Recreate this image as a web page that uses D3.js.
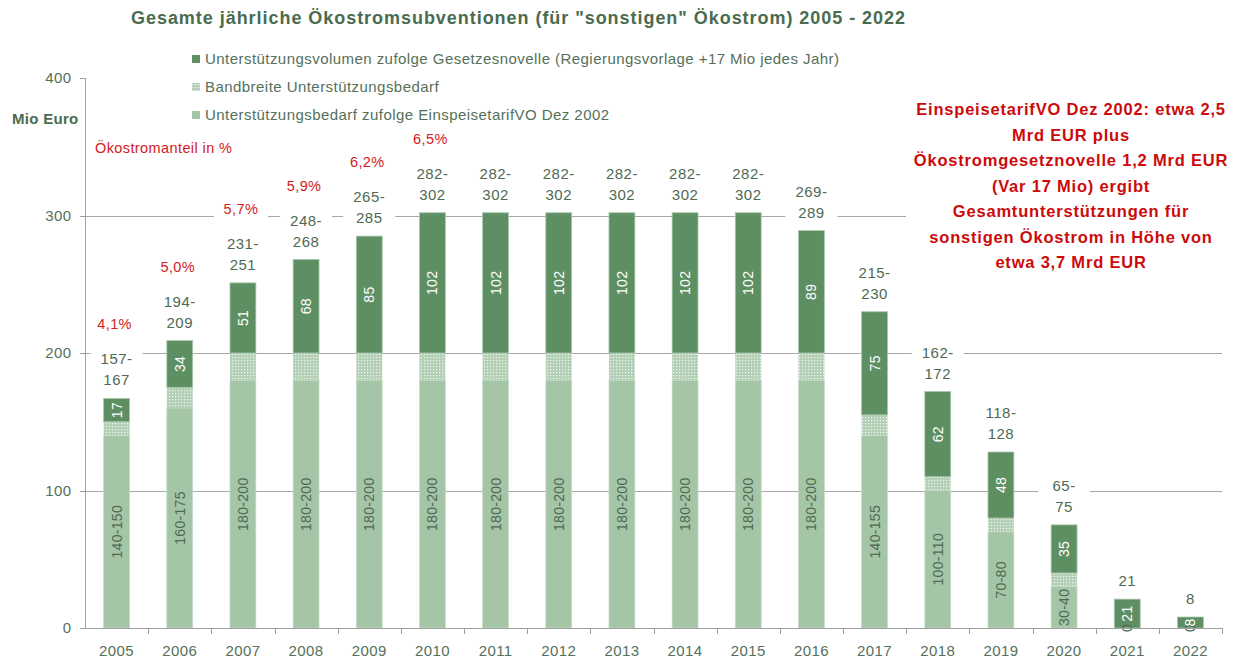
<!DOCTYPE html>
<html>
<head>
<meta charset='utf-8'>
<title>Ökostromsubventionen 2005 - 2022</title>
<script src='https://d3js.org/d3.v7.min.js'></script>
<style>
    body { margin: 0; background: #fff; }
    svg text { font-family: 'Liberation Sans', Arial, sans-serif; }
    .axis path, .axis line { stroke: #a0a0a0; shape-rendering: crispEdges; }
    .axis text { font-size: 15px; fill: #55705a; letter-spacing: 0.4px; }
    .grid line { stroke: #a8a8a8; shape-rendering: crispEdges; }
    .legend text { font-size: 15px; fill: #55705a; letter-spacing: 0.45px; }
    .inner { font-size: 14px; letter-spacing: 0.3px; }
    .toplabel { font-size: 15px; fill: #4f6a53; letter-spacing: 0.5px; }
    .pct { font-size: 14.5px; fill: #d42020; letter-spacing: 0.4px; }
</style>
</head>
<body>
<svg width='1246' height='664' id='chart'></svg>
<script>
    // data
    const years = ['2005', '2006', '2007', '2008', '2009', '2010', '2011', '2012', '2013',
                   '2014', '2015', '2016', '2017', '2018', '2019', '2020', '2021', '2022'];
    const bedarfLow  = [140, 160, 180, 180, 180, 180, 180, 180, 180, 180, 180, 180, 140, 100, 70, 30, 0, 0];
    const bedarfHigh = [150, 175, 200, 200, 200, 200, 200, 200, 200, 200, 200, 200, 155, 110, 80, 40, 0, 0];
    const novelle    = [17, 34, 51, 68, 85, 102, 102, 102, 102, 102, 102, 89, 75, 62, 48, 35, 21, 8];
    const anteil     = ['4,1%', '5,0%', '5,7%', '5,9%', '6,2%', '6,5%'];
    const yTicks = [0, 100, 200, 300, 400];
    const legendLabels = [
        'Unterstützungsvolumen zufolge Gesetzesnovelle (Regierungsvorlage +17 Mio jedes Jahr)',
        'Bandbreite Unterstützungsbedarf',
        'Unterstützungsbedarf zufolge EinspeisetarifVO Dez 2002'
    ];
    const noteLines = [
        'EinspeisetarifVO Dez 2002: etwa 2,5',
        'Mrd EUR plus',
        'Ökostromgesetznovelle 1,2 Mrd EUR',
        '(Var 17 Mio) ergibt',
        'Gesamtunterstützungen für',
        'sonstigen Ökostrom in Höhe von',
        'etwa 3,7 Mrd EUR'
    ];

    const darkGreen = '#5e8f63',
          lightGreen = '#a5c5a7',
          textGreen = '#4f6a53';

    const svg = d3.select('#chart'),
        margin = {top: 78, right: 24, bottom: 36, left: 85},
        width = +svg.attr('width') - margin.left - margin.right,
        height = +svg.attr('height') - margin.top - margin.bottom;

    // dotted pattern for the range band
    const defs = svg.append('defs');
    const pat = defs.append('pattern')
        .attr('id', 'dots')
        .attr('width', 3).attr('height', 3)
        .attr('patternUnits', 'userSpaceOnUse');
    pat.append('rect').attr('width', 3).attr('height', 3).attr('fill', '#b3cfb5');
    pat.append('rect').attr('width', 1.2).attr('height', 1.2).attr('fill', '#eef5ee');

    const rows = years.map((yr, i) => ({
        year: yr,
        low: bedarfLow[i],
        high: bedarfHigh[i],
        nov: novelle[i],
        total: bedarfHigh[i] + novelle[i]
    }));

    const x = d3.scaleBand().domain(years).range([0, width]).paddingInner(0.59).paddingOuter(0.295);
    const xb = d3.scaleBand().domain(years).range([0, width]);
    const y = d3.scaleLinear().domain([0, 400]).range([height, 0]);

    const g = svg.append('g').attr('transform', 'translate(' + margin.left + ',' + margin.top + ')');

    // gridlines
    g.append('g').attr('class', 'grid')
        .selectAll('line').data([100, 200, 300]).enter().append('line')
        .attr('x1', 0).attr('x2', width)
        .attr('y1', d => Math.round(y(d)) + 0.5).attr('y2', d => Math.round(y(d)) + 0.5);

    // bars
    const bar = g.selectAll('.bar').data(rows).enter().append('g').attr('class', 'bar');

    bar.append('rect')
        .attr('x', d => x(d.year)).attr('width', x.bandwidth())
        .attr('y', d => y(d.low)).attr('height', d => y(0) - y(d.low))
        .attr('fill', lightGreen).attr('stroke', '#c7dcc8').attr('stroke-width', 0.8);
    bar.append('rect')
        .attr('x', d => x(d.year)).attr('width', x.bandwidth())
        .attr('y', d => y(d.high)).attr('height', d => y(d.low) - y(d.high))
        .attr('fill', 'url(#dots)');
    bar.append('rect')
        .attr('x', d => x(d.year)).attr('width', x.bandwidth())
        .attr('y', d => y(d.total)).attr('height', d => y(d.high) - y(d.total))
        .attr('fill', darkGreen).attr('stroke', '#a9c8ab').attr('stroke-width', 0.8);

    const cx = d => x(d.year) + x.bandwidth() / 2;

    // rotated labels inside bars
    bar.append('text')
        .attr('class', 'inner')
        .attr('transform', d => 'translate(' + (cx(d) + 5) + ',' + y(d.low / 2) + ') rotate(-90)')
        .attr('text-anchor', 'middle')
        .attr('fill', textGreen)
        .text(d => d.low === 0 ? '0' : d.low + '-' + d.high);
    bar.append('text')
        .attr('class', 'inner')
        .attr('transform', d => 'translate(' + (cx(d) + 5) + ',' + y(d.high + d.nov / 2) + ') rotate(-90)')
        .attr('text-anchor', 'middle')
        .attr('fill', '#fff')
        .text(d => d.nov);

    // range labels above bars, with white box
    const topLbl = bar.append('g')
        .attr('transform', d => 'translate(' + cx(d) + ',' + (y(d.total) - 18) + ')');
    topLbl.append('rect')
        .attr('x', -26).attr('width', 52)
        .attr('y', d => d.low === 0 ? -12 : -33).attr('height', d => d.low === 0 ? 22 : 44)
        .attr('fill', '#fff');
    topLbl.append('text')
        .attr('class', 'toplabel').attr('text-anchor', 'middle')
        .attr('y', -16)
        .text(d => d.low === 0 ? '' : (d.low + d.nov) + '-');
    topLbl.append('text')
        .attr('class', 'toplabel').attr('text-anchor', 'middle')
        .attr('y', 5)
        .text(d => d.total);

    // Ökostromanteil labels
    const pct = g.selectAll('.pctlabel').data(rows.slice(0, anteil.length)).enter().append('g')
        .attr('transform', d => 'translate(' + (cx(d) - 2) + ',' + (y(d.total) - 74) + ')');
    pct.append('rect').attr('x', -27).attr('width', 54).attr('y', -11).attr('height', 21).attr('fill', '#fff');
    pct.append('text').attr('class', 'pct').attr('text-anchor', 'middle').attr('y', 5)
        .text((d, i) => anteil[i]);

    // axes
    g.append('g').attr('class', 'axis')
        .attr('transform', 'translate(0,' + height + ')')
        .call(d3.axisBottom(xb).tickSize(0).tickPadding(17))
        .call(a => a.select('.domain').attr('d', 'M0.5,0H' + width + 'V6'))
        .call(a => a.selectAll('.edge').data(years.slice(1)).enter().append('line')
            .attr('class', 'edge')
            .attr('x1', d => Math.round(xb(d)) + 0.5).attr('x2', d => Math.round(xb(d)) + 0.5)
            .attr('y1', 0).attr('y2', 6));

    g.append('g').attr('class', 'axis')
        .attr('transform', 'translate(0.5,0)')
        .call(d3.axisLeft(y).tickValues(yTicks).tickSize(6).tickPadding(8))
        .call(a => a.select('.domain').attr('d', 'M-6,' + height + 'H0V0H-6'));

    // title
    svg.append('text')
        .attr('x', 518).attr('y', 24)
        .attr('text-anchor', 'middle')
        .attr('textLength', 774).attr('lengthAdjust', 'spacing')
        .style('font-size', '18px').style('font-weight', 'bold')
        .attr('fill', '#4a6b4f')
        .text('Gesamte jährliche Ökostromsubventionen (für "sonstigen" Ökostrom) 2005 - 2022');

    svg.append('text')
        .attr('x', 12).attr('y', 124)
        .style('font-size', '15px').style('font-weight', 'bold').style('letter-spacing', '0.3px')
        .attr('fill', '#4a6b4f')
        .text('Mio Euro');

    svg.append('text')
        .attr('x', 95).attr('y', 153)
        .attr('class', 'pct')
        .text('Ökostromanteil in %');

    // legend
    const legendFills = [darkGreen, 'url(#dots)', lightGreen];
    const leg = svg.append('g').attr('class', 'legend')
        .selectAll('g').data(legendLabels).enter().append('g')
        .attr('transform', (d, i) => 'translate(192,' + (59 + i * 28) + ')');
    leg.append('rect').attr('x', 0).attr('y', -4).attr('width', 8).attr('height', 8)
        .attr('fill', (d, i) => legendFills[i]);
    leg.append('text').attr('x', 13).attr('y', 5).text(d => d);

    // note on the right
    const note = svg.append('g').attr('transform', 'translate(1071,0)');
    note.append('rect').attr('x', -165).attr('y', 92).attr('width', 340).attr('height', 182).attr('fill', '#fff');
    note.selectAll('text').data(noteLines).enter().append('text')
        .attr('text-anchor', 'middle')
        .attr('y', (d, i) => 115 + i * 25.5)
        .style('font-size', '16.5px').style('font-weight', 'bold').style('letter-spacing', '0.8px')
        .attr('fill', '#cc0a0a')
        .text(d => d);
</script>
</body>
</html>
